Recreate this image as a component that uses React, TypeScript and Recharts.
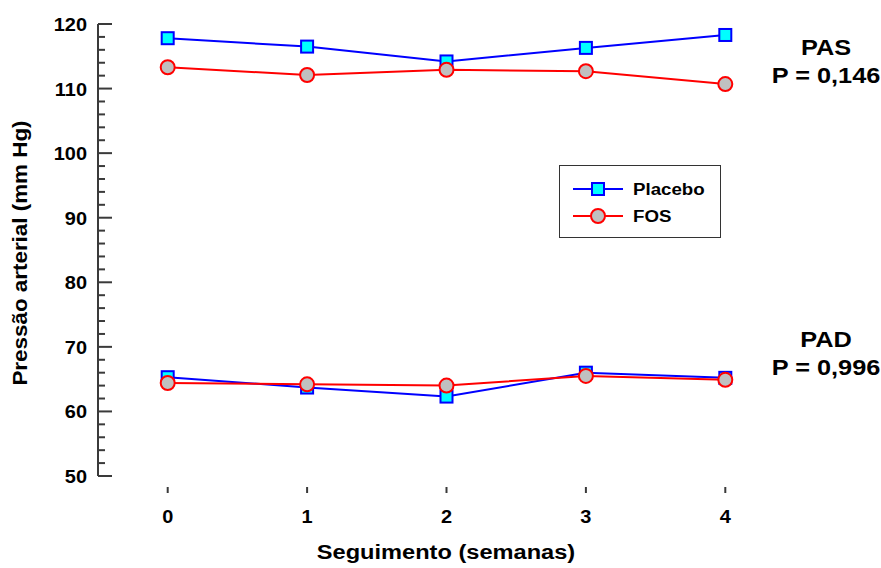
import React from "react";
import { LineChart, Line, XAxis, YAxis } from "recharts";

const weeks = [0, 1, 2, 3, 4];
const placeboPAS = [117.8, 116.5, 114.2, 116.3, 118.3];
const fosPAS = [113.3, 112.1, 112.9, 112.7, 110.7];
const placeboPAD = [65.3, 63.7, 62.3, 66.0, 65.2];
const fosPAD = [64.4, 64.2, 64.0, 65.5, 64.9];
const yTicks = [50, 52, 54, 56, 58, 60, 62, 64, 66, 68, 70, 72, 74, 76, 78, 80, 82, 84, 86, 88, 90, 92, 94, 96, 98, 100, 102, 104, 106, 108, 110, 112, 114, 116, 118, 120];

const data = weeks.map((w, i) => ({
  x: w,
  pPAS: placeboPAS[i],
  fPAS: fosPAS[i],
  pPAD: placeboPAD[i],
  fPAD: fosPAD[i],
}));

const FONT = "'Liberation Sans', Arial, sans-serif";
const AXIS = "#3a3a3a";

const SquareDot = (props: any) => {
  const { cx, cy, index } = props;
  if (cx == null || cy == null) return <g key={index} />;
  return (
    <rect key={index} x={cx - 6} y={cy - 6} width={12} height={12} fill="#00ffff" stroke="#0000ff" strokeWidth={2} />
  );
};

const CircleDot = (props: any) => {
  const { cx, cy, index } = props;
  if (cx == null || cy == null) return <g key={index} />;
  return <circle key={index} cx={cx} cy={cy} r={7} fill="#c0c0c0" stroke="#ff0000" strokeWidth={2} />;
};

// stretched bold text, like the original export
const SText = ({ x, y, anchor, size, sx, children }: any) => (
  <g transform={`translate(${x},${y}) scale(${sx},1)`}>
    <text x={0} y={0} textAnchor={anchor} fontFamily={FONT} fontWeight="bold" fontSize={size} fill="#000">
      {children}
    </text>
  </g>
);

const YTick = (props: any) => {
  const { x, y, payload } = props;
  const major = payload.value % 10 === 0;
  return (
    <g>
      <line x1={x} x2={x + (major ? 14 : 7)} y1={y} y2={y} stroke={AXIS} strokeWidth={2} />
      {major && (
        <SText x={x - 11} y={y + 7} anchor="end" size={19} sx={1.05}>
          {payload.value}
        </SText>
      )}
    </g>
  );
};

const XTick = (props: any) => {
  const { x, y, payload } = props;
  return (
    <g>
      <line x1={x} x2={x} y1={y + 11} y2={y + 17} stroke={AXIS} strokeWidth={2} />
      <SText x={x} y={y + 47} anchor="middle" size={19} sx={1.05}>
        {payload.value}
      </SText>
    </g>
  );
};

const LegendBox = () => (
  <div
    style={{
      position: "absolute",
      left: 559,
      top: 165,
      width: 160,
      height: 71,
      border: "1.5px solid #333",
      background: "#fff",
    }}
  >
    <svg width={160} height={71} style={{ position: "absolute", left: 0, top: 0 }}>
      <line x1={13} x2={63} y1={23} y2={23} stroke="#0000ff" strokeWidth={2} />
      <rect x={32} y={17} width={12} height={12} fill="#00ffff" stroke="#0000ff" strokeWidth={2} />
      <line x1={13} x2={63} y1={50} y2={50} stroke="#ff0000" strokeWidth={2} />
      <circle cx={38} cy={50} r={7} fill="#c0c0c0" stroke="#ff0000" strokeWidth={2} />
      <SText x={73} y={29} anchor="start" size={17} sx={1.1}>Placebo</SText>
      <SText x={73} y={56} anchor="start" size={17} sx={1.1}>FOS</SText>
    </svg>
  </div>
);

const note = (top: number, lines: string[]) => (
  <div
    style={{
      position: "absolute",
      left: 761,
      top,
      width: 130,
      textAlign: "center",
      fontFamily: FONT,
      fontWeight: "bold",
      fontSize: 22,
      lineHeight: "28px",
      color: "#000",
      transform: "scaleX(1.15)",
    }}
  >
    {lines.map((l) => (
      <div key={l}>{l}</div>
    ))}
  </div>
);

export default function App() {
  return (
    <div style={{ position: "absolute", left: 0, top: 0, width: 881, height: 568, background: "#fff", overflow: "hidden" }}>
      <LineChart width={881} height={568} data={data} margin={{ top: 24, right: 86, bottom: 62, left: 0 }}>
        <XAxis
          dataKey="x"
          type="number"
          domain={[-0.5, 4.5]}
          ticks={weeks}
          axisLine={false}
          tickLine={false}
          tickSize={0}
          tickMargin={0}
          height={30}
          tick={<XTick />}
        />
        <YAxis
          type="number"
          domain={[50, 120]}
          ticks={yTicks}
          interval={0}
          width={98}
          axisLine={{ stroke: AXIS, strokeWidth: 2 }}
          tickLine={false}
          tickSize={0}
          tickMargin={0}
          tick={<YTick />}
        />
        <Line dataKey="pPAS" name="Placebo" stroke="#0000ff" strokeWidth={2} dot={SquareDot} isAnimationActive={false} />
        <Line dataKey="pPAD" name="Placebo" legendType="none" stroke="#0000ff" strokeWidth={2} dot={SquareDot} isAnimationActive={false} />
        <Line dataKey="fPAS" name="FOS" stroke="#ff0000" strokeWidth={2} dot={CircleDot} isAnimationActive={false} />
        <Line dataKey="fPAD" name="FOS" legendType="none" stroke="#ff0000" strokeWidth={2} dot={CircleDot} isAnimationActive={false} />
      </LineChart>
      <LegendBox />
      {note(34, ["PAS", "P = 0,146"])}
      {note(326, ["PAD", "P = 0,996"])}
      <div
        style={{
          position: "absolute",
          left: 20,
          top: 253,
          transform: "translate(-50%, -50%) rotate(-90deg) scaleX(1.12)",
          whiteSpace: "nowrap",
          fontFamily: FONT,
          fontWeight: "bold",
          fontSize: 20,
        }}
      >
        Pressão arterial (mm Hg)
      </div>
      <div
        style={{
          position: "absolute",
          left: 446,
          top: 552,
          transform: "translate(-50%, -50%) scaleX(1.18)",
          whiteSpace: "nowrap",
          fontFamily: FONT,
          fontWeight: "bold",
          fontSize: 20,
        }}
      >
        Seguimento (semanas)
      </div>
    </div>
  );
}
